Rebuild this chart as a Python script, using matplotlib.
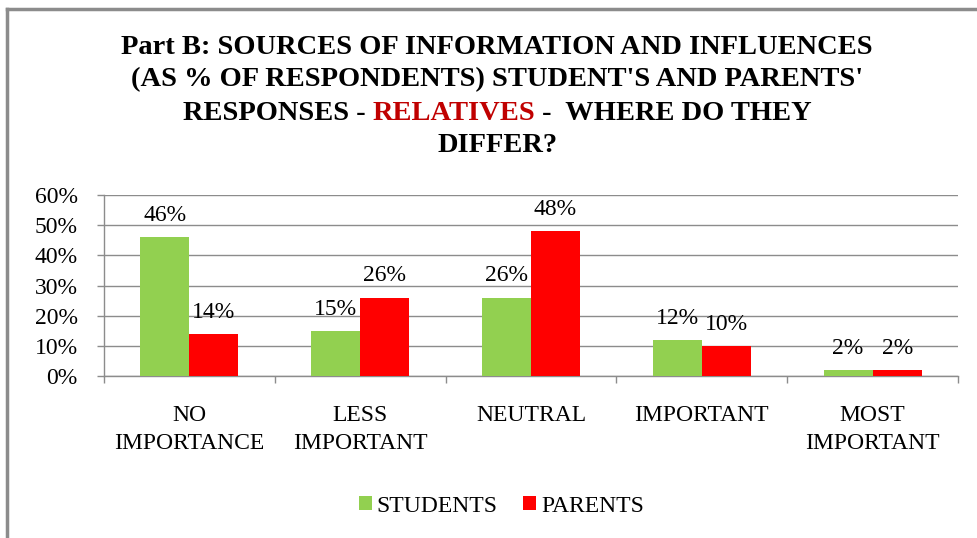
import matplotlib.pyplot as plt
import numpy as np
from matplotlib.lines import Line2D
from matplotlib.offsetbox import TextArea, HPacker, AnchoredOffsetbox
from matplotlib.ticker import FixedLocator, PercentFormatter

categories = ['NO\nIMPORTANCE', 'LESS\nIMPORTANT', 'NEUTRAL', 'IMPORTANT', 'MOST\nIMPORTANT']
students = [46, 15, 26, 12, 2]
parents = [14, 26, 48, 10, 2]

plt.rcParams['font.family'] = ['Liberation Serif', 'DejaVu Serif']

fig = plt.figure(figsize=(9.77, 5.38), dpi=100)
ax = fig.add_axes([0.1064, 0.3011, 0.8742, 0.3364])

x = np.arange(len(categories))
w = 0.287
b1 = ax.bar(x - w / 2, students, w, color='#92D050', label='STUDENTS', zorder=3)
b2 = ax.bar(x + w / 2, parents, w, color='#FF0000', label='PARENTS', zorder=3)

for bars, vals in ((b1, students), (b2, parents)):
    for r, v in zip(bars, vals):
        ax.annotate(f'{v}%', (r.get_x() + r.get_width() / 2, v),
                    xytext=(0, 8), textcoords='offset points',
                    ha='center', va='bottom', fontsize=17, zorder=4)

ax.set_xlim(-0.5, len(categories) - 0.5)
ax.set_ylim(0, 60)
ax.set_yticks(range(0, 61, 10))
ax.yaxis.set_major_formatter(PercentFormatter(decimals=0))
ax.grid(axis='y', color='#8C8C8C', lw=1, zorder=0)

# category separators as ticks, names on minor ticks
ax.xaxis.set_major_locator(FixedLocator(np.arange(-0.5, len(categories), 1)))
ax.xaxis.set_major_formatter(plt.NullFormatter())
ax.xaxis.set_minor_locator(FixedLocator(x))
ax.set_xticklabels(categories, minor=True, fontsize=17, linespacing=1.42)
ax.tick_params(axis='x', which='minor', length=0, pad=21)
ax.tick_params(axis='x', which='major', length=5, color='#8C8C8C', width=1)
ax.tick_params(axis='y', length=5, color='#8C8C8C', width=1, labelsize=17, pad=14)

for s in ('top', 'right'):
    ax.spines[s].set_visible(False)
for s in ('left', 'bottom'):
    ax.spines[s].set_color('#8C8C8C')
    ax.spines[s].set_linewidth(1)

# title, middle word in red
tkw = dict(fontsize=20.5, fontweight='bold', fontfamily=['Liberation Serif'])
fig.text(0.509, 1 - 47 / 538, 'Part B: SOURCES OF INFORMATION AND INFLUENCES',
         ha='center', va='center', **tkw)
fig.text(0.509, 1 - 80 / 538, "(AS % OF RESPONDENTS) STUDENT'S AND PARENTS'",
         ha='center', va='center', **tkw)
parts = [TextArea('RESPONSES - ', textprops=dict(color='black', **tkw)),
         TextArea('RELATIVES', textprops=dict(color='#C00000', **tkw)),
         TextArea(' -  WHERE DO THEY', textprops=dict(color='black', **tkw))]
row = HPacker(children=parts, align='baseline', pad=0, sep=0)
fig.add_artist(AnchoredOffsetbox(loc='center', child=row, frameon=False, pad=0,
                                 bbox_to_anchor=(0.509, 1 - 113 / 538),
                                 bbox_transform=fig.transFigure, borderpad=0))
fig.text(0.509, 1 - 146 / 538, 'DIFFER?', ha='center', va='center', **tkw)

fig.legend(handles=[b1, b2], loc='center', bbox_to_anchor=(0.513, 1 - 506 / 538),
           ncol=2, frameon=False, fontsize=17, handlelength=0.55, handleheight=0.55,
           handletextpad=0.2, columnspacing=1.1)

# chart frame
fig.add_artist(Line2D([7 / 977, 7 / 977], [0, 1 - 9 / 538], color='#8C8C8C', lw=2.5,
                      transform=fig.transFigure))
fig.add_artist(Line2D([7 / 977, 1], [1 - 9 / 538, 1 - 9 / 538], color='#8C8C8C', lw=2.5,
                      transform=fig.transFigure))

fig.savefig('out.png', dpi=100)
